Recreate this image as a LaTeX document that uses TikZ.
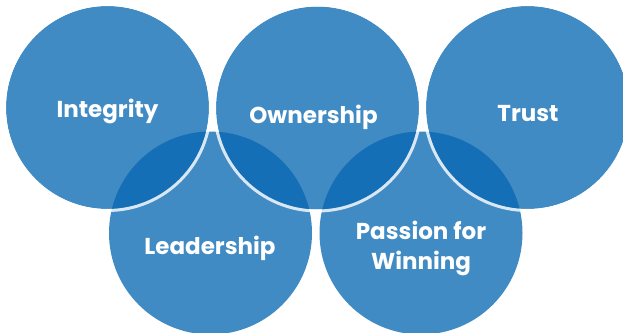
\documentclass[tikz,border=0pt]{standalone}
\usepackage{fontspec}
\setsansfont{Poppins}
\usepackage{tikz}
\usetikzlibrary{positioning}
\definecolor{ringblue}{RGB}{5,102,177}

\begin{document}
\begin{tikzpicture}[
  x=1pt, y=-1pt,
  font=\sffamily\bfseries\fontsize{23}{28}\selectfont,
  ring/.style={circle, fill=ringblue, fill opacity=0.76, inner sep=0pt, minimum size=203pt},
  rim/.style={draw=white, draw opacity=0.8, line width=3pt},
  lbl/.style={text=white, align=center, inner sep=0pt}]
\useasboundingbox (0,0) rectangle (623,332);

% ---- Bottom row (drawn first, no rim) ----
\node[ring] (lead) at (210.5,233) {};
\node[ring] (pass) at (421,233) {};

% ---- Top row, white rim just outside each ring ----
\node[ring] (integ) at (107.5,107.5) {};
\node[ring] (own) at (317.5,108) {};
\node[ring] (trust) at (527.5,107.5) {};
\draw[rim] (integ) circle[radius=103pt];
\draw[rim] (own) circle[radius=103pt];
\draw[rim] (trust) circle[radius=103pt];

% ---- Labels ----
\node[lbl] (tinteg) at (107.5,111) {Integrity};
\node[lbl] (town) at (313.5,117) {Ownership};
\node[lbl] (ttrust) at (528,114) {Trust};
\node[lbl] (tlead) at (210,248) {Leadership};
\node[lbl, font=\sffamily\bfseries\fontsize{23}{30}\selectfont] (tpass) at (421,248) {Passion for\\Winning};
\end{tikzpicture}
\end{document}
